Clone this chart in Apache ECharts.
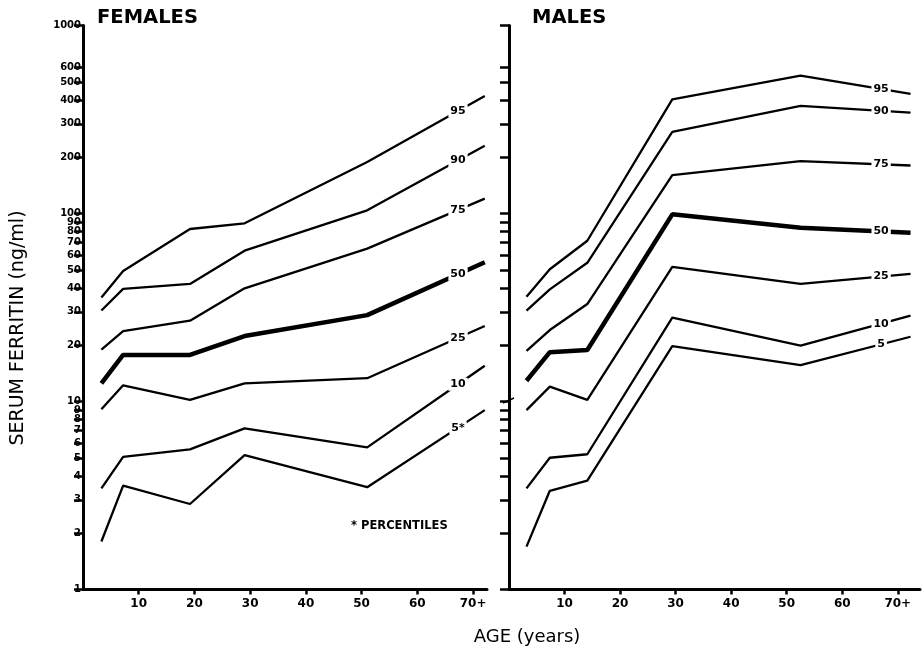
<!DOCTYPE html>
<html>
<head>
<meta charset="utf-8">
<script src="https://cdn.jsdelivr.net/npm/echarts@6/dist/echarts.min.js"></script>
<style>
html,body{margin:0;padding:0;background:#fff;}
#chart{width:923px;height:651px;}
</style>
</head>
<body>
<div id="chart"></div>
<script>
// ---- data ----
const percentiles = ['95', '90', '75', '50', '25', '10', '5'];
const femaleAges = [3.3, 7.2, 19.2, 29, 51, 72.1];
const femaleP95 = [35.7, 49.5, 82.7, 88.7, 188, 422];
const femaleP90 = [30.5, 39.7, 42.2, 63.4, 104, 229];
const femaleP75 = [18.9, 23.7, 26.9, 40, 65, 120];
const femaleP50 = [12.5, 17.7, 17.7, 22.3, 28.8, 55];
const femaleP25 = [9.1, 12.2, 10.2, 12.5, 13.3, 25.2];
const femaleP10 = [3.45, 5.08, 5.56, 7.2, 5.7, 15.5];
const femaleP5 = [1.8, 3.57, 2.85, 5.19, 3.5, 9.0];

const maleAges = [3.15, 7.35, 14.1, 29.4, 52.5, 72.3];
const maleP95 = [36.1, 50.5, 71.6, 405, 541, 433];
const maleP90 = [30.4, 39.5, 54.7, 272, 374, 344];
const maleP75 = [18.6, 24, 33, 160, 190, 180];
const maleP50 = [12.9, 18.3, 18.8, 99, 84, 79];
const maleP25 = [9.0, 12.0, 10.2, 52, 42.2, 47.7];
const maleP10 = [3.45, 5.02, 5.24, 27.9, 19.8, 28.6];
const maleP5 = [1.69, 3.35, 3.79, 19.7, 15.6, 22.1];

const femaleLabelAge = 67.3;
const maleLabelAge = 67;

const yTicks = [1,2,3,4,5,6,7,8,9,10,20,30,40,50,60,70,80,90,100,200,300,400,500,600,1000];
const xTicks = [10,20,30,40,50,60,70];

// ---- build ----
const femaleSets = [femaleP95, femaleP90, femaleP75, femaleP50, femaleP25, femaleP10, femaleP5];
const maleSets = [maleP95, maleP90, maleP75, maleP50, maleP25, maleP10, maleP5];

function interpLog(ages, vals, a) {
  for (let i = 0; i < ages.length - 1; i++) {
    if (a >= ages[i] && a <= ages[i + 1]) {
      const t = (a - ages[i]) / (ages[i + 1] - ages[i]);
      return Math.pow(10, Math.log10(vals[i]) + t * (Math.log10(vals[i + 1]) - Math.log10(vals[i])));
    }
  }
  return vals[vals.length - 1];
}

const series = [];
function addPanel(idx, ages, sets, labelAge, female) {
  sets.forEach((vals, k) => {
    series.push({
      type: 'line', xAxisIndex: idx, yAxisIndex: idx,
      data: ages.map((a, i) => [a, vals[i]]),
      symbol: 'none', silent: true,
      lineStyle: { color: '#000', width: percentiles[k] === '50' ? 4.5 : 2.3 },
      z: 2
    });
  });
  series.push({
    type: 'scatter', xAxisIndex: idx, yAxisIndex: idx, symbolSize: 0, silent: true, z: 5,
    itemStyle: { opacity: 1, color: '#000' },
    data: sets.map((vals, k) => ({
      value: [labelAge, interpLog(ages, vals, labelAge)],
      name: (female && percentiles[k] === '5') ? '5*' : percentiles[k]
    })),
    label: {
      show: true, position: 'inside', formatter: p => p.name,
      color: '#000', fontSize: 11, fontWeight: 'bold', fontFamily: 'DejaVu Sans',
      textBorderWidth: 0, backgroundColor: '#fff', padding: [1, 2]
    }
  });
}
addPanel(0, femaleAges, femaleSets, femaleLabelAge, true);
addPanel(1, maleAges, maleSets, maleLabelAge, false);

function xAxisCfg(idx, max) {
  return {
    type: 'value', gridIndex: idx, min: 0, max: max,
    axisLine: { show: true, onZero: false, lineStyle: { color: '#000', width: 3 } },
    axisTick: { show: true, customValues: xTicks, length: 5, lineStyle: { color: '#000', width: 2.5 } },
    axisLabel: { customValues: xTicks, formatter: v => v === 70 ? '70+' : String(v),
      color: '#000', fontSize: 12, fontWeight: 'bold', fontFamily: 'DejaVu Sans', margin: 8 },
    splitLine: { show: false }
  };
}
function yAxisCfg(idx, showLabels) {
  return {
    type: 'log', logBase: 10, gridIndex: idx, min: 1, max: 1000,
    axisLine: { show: true, onZero: false, lineStyle: { color: '#000', width: 3 } },
    axisTick: { show: true, customValues: yTicks, length: 9, lineStyle: { color: '#000', width: 2.5 } },
    axisLabel: { show: showLabels, customValues: yTicks, formatter: v => String(Math.round(v)),
      color: '#000', fontSize: 10, fontWeight: 'bold', fontFamily: 'DejaVu Sans', margin: 2 },
    splitLine: { show: false }
  };
}

const option = {
  backgroundColor: '#fff',
  animation: false,
  grid: [
    { left: 83, top: 25.5, width: 404, height: 564 },
    { left: 509, top: 25.5, width: 411, height: 564 }
  ],
  xAxis: [xAxisCfg(0, 72.5), xAxisCfg(1, 74)],
  yAxis: [yAxisCfg(0, true), yAxisCfg(1, false)],
  series: series,
  graphic: [
    { type: 'text', left: 97, top: 8, style: { text: 'FEMALES', font: 'bold 19.5px "DejaVu Sans"', fill: '#000' } },
    { type: 'text', left: 532, top: 8, style: { text: 'MALES', font: 'bold 19.5px "DejaVu Sans"', fill: '#000' } },
    { type: 'text', left: 351, top: 520, style: { text: '* PERCENTILES', font: 'bold 11.5px "DejaVu Sans"', fill: '#000' } },
    { type: 'text', x: 527, y: 637, style: { text: 'AGE (years)', font: '18px "DejaVu Sans"', fill: '#000', align: 'center', verticalAlign: 'middle' } },
    { type: 'text', x: 18, y: 328, rotation: Math.PI / 2, style: { text: 'SERUM FERRITIN (ng/ml)', font: '19px "DejaVu Sans"', fill: '#000', align: 'center', verticalAlign: 'middle' } },
    { type: 'line', shape: { x1: 503, y1: 403, x2: 514, y2: 398 }, style: { stroke: '#000', lineWidth: 1.5 } }
  ]
};
const chart = echarts.init(document.getElementById('chart'), null, { renderer: 'canvas' });
chart.setOption(option);
</script>
</body>
</html>
